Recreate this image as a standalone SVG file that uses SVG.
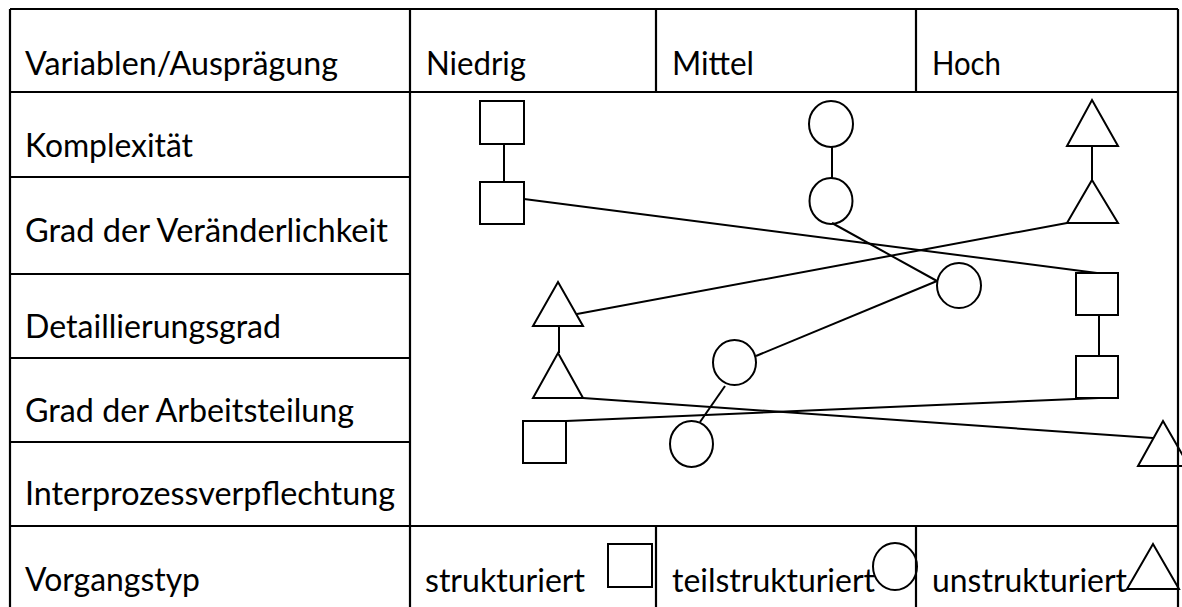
<svg xmlns="http://www.w3.org/2000/svg" width="1182" height="607" viewBox="0 0 1182 607">
  <style>
    .grid { stroke: #000; stroke-width: 2.2; fill: none; }
    .shape { stroke: #000; stroke-width: 2; fill: none; }
    .link { stroke: #000; stroke-width: 2; fill: none; }
    .lbl { font-family: Lato, "Open Sans", sans-serif; font-size: 32.5px; fill: #000; }
  </style>
  <rect width="1182" height="607" fill="#fff"/>

  <!-- table frame -->
  <g id="table" class="grid">
    <path d="M10 9 H1178 M10 9 V607 M1178 9 V607 M410 9 V607"/>
    <path d="M10 92 H1178 M10 526 H1178"/>
    <path d="M656 9 V92 M916 9 V92 M656 526 V607 M916 526 V607"/>
    <path d="M10 177 H410 M10 274 H410 M10 358 H410 M10 442 H410"/>
  </g>

  <!-- row and column headings -->
  <g id="labels" class="lbl">
    <text x="25" y="75" textLength="313" lengthAdjust="spacingAndGlyphs">Variablen/Ausprägung</text>
    <text x="426" y="75" textLength="100" lengthAdjust="spacingAndGlyphs">Niedrig</text>
    <text x="672" y="75" textLength="82" lengthAdjust="spacingAndGlyphs">Mittel</text>
    <text x="932" y="75" textLength="69" lengthAdjust="spacingAndGlyphs">Hoch</text>
    <text x="25" y="157" textLength="168" lengthAdjust="spacingAndGlyphs">Komplexität</text>
    <text x="25" y="242" textLength="363" lengthAdjust="spacingAndGlyphs">Grad der Veränderlichkeit</text>
    <text x="25" y="338" textLength="256" lengthAdjust="spacingAndGlyphs">Detaillierungsgrad</text>
    <text x="25" y="422" textLength="329" lengthAdjust="spacingAndGlyphs">Grad der Arbeitsteilung</text>
    <text x="25" y="505" textLength="370" lengthAdjust="spacingAndGlyphs">Interprozessverpflechtung</text>
    <text x="25" y="591" textLength="175" lengthAdjust="spacingAndGlyphs">Vorgangstyp</text>
    <text x="425" y="592" textLength="160" lengthAdjust="spacingAndGlyphs">strukturiert</text>
    <text x="672" y="592" textLength="203" lengthAdjust="spacingAndGlyphs">teilstrukturiert</text>
    <text x="932" y="592" textLength="195" lengthAdjust="spacingAndGlyphs">unstrukturiert</text>
  </g>

  <!-- connectors -->
  <g id="connectors" class="link">
    <!-- structured -->
    <path d="M504 144 V182"/>
    <path d="M524 199 L1097 273"/>
    <path d="M1099 315 V356"/>
    <path d="M1099 398 L566 421"/>
    <!-- partly structured -->
    <path d="M832 147 V178"/>
    <path d="M832 223 L937 281"/>
    <path d="M937 281 L756 356"/>
    <path d="M725 386 L700 422"/>
    <!-- unstructured -->
    <path d="M1092 146 L1092 180"/>
    <path d="M1067 223 L577 314"/>
    <path d="M559 326 V353"/>
    <path d="M583 398 L1153 438"/>
  </g>

  <!-- structured profile -->
  <g id="s-komplex" class="shape"><rect x="480" y="101" width="44" height="43"/></g>
  <g id="s-veraend" class="shape"><rect x="480" y="182" width="44" height="42"/></g>
  <g id="s-detail" class="shape"><rect x="1076" y="273" width="42" height="42"/></g>
  <g id="s-arbeit" class="shape"><rect x="1076" y="356" width="42" height="42"/></g>
  <g id="s-inter" class="shape"><rect x="523" y="421" width="43" height="42"/></g>

  <!-- partly structured profile -->
  <g id="c-komplex" class="shape"><ellipse cx="831" cy="124" rx="22" ry="23"/></g>
  <g id="c-veraend" class="shape"><ellipse cx="831" cy="201" rx="21.5" ry="23"/></g>
  <g id="c-detail" class="shape"><ellipse cx="959" cy="285.5" rx="22" ry="22.5"/></g>
  <g id="c-arbeit" class="shape"><ellipse cx="734.5" cy="362.5" rx="21.5" ry="22.5"/></g>
  <g id="c-inter" class="shape"><ellipse cx="691.5" cy="444" rx="21.5" ry="23"/></g>

  <!-- unstructured profile -->
  <g id="t-komplex" class="shape"><path d="M1092 100 L1118 146 H1067 Z"/></g>
  <g id="t-veraend" class="shape"><path d="M1092 180 L1118 223 H1067 Z"/></g>
  <g id="t-detail" class="shape"><path d="M558 282 L583 326 H533 Z"/></g>
  <g id="t-arbeit" class="shape"><path d="M558 353 L583 398 H533 Z"/></g>
  <g id="t-inter" class="shape"><path d="M1163 421 L1189 466 H1138 Z"/></g>

  <!-- legend symbols -->
  <g id="legend-square" class="shape"><rect x="608" y="544" width="44" height="43"/></g>
  <g id="legend-circle" class="shape"><ellipse cx="895" cy="566.5" rx="22" ry="23.5"/></g>
  <g id="legend-triangle" class="shape"><path d="M1153 544 L1179 589 H1127 Z"/></g>
</svg>
